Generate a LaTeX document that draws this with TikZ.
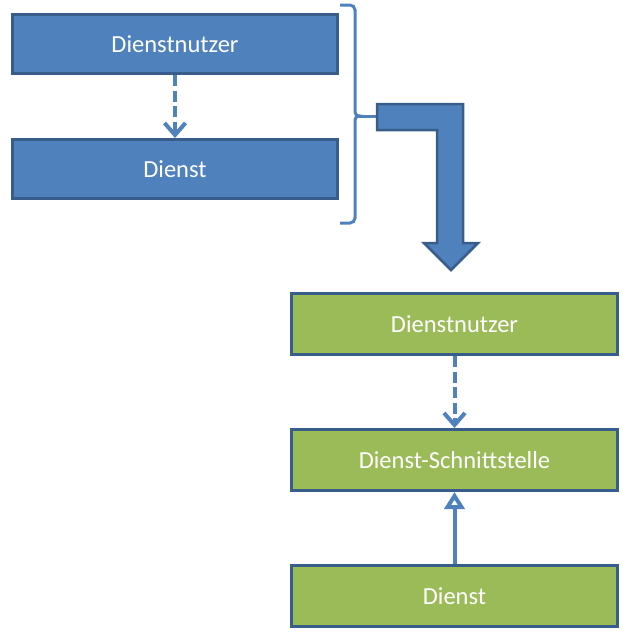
\documentclass[tikz,border=0pt]{standalone}
\usepackage{fontspec}
\setmainfont{Carlito}
\usetikzlibrary{arrows.meta}
\definecolor{bfill}{HTML}{4F81BD}
\definecolor{bline}{HTML}{385D8A}
\definecolor{gfill}{HTML}{9BBB59}
\begin{document}
\begin{tikzpicture}[x=1pt,y=-1pt,
  box/.style={draw=bline, line width=3pt, minimum width=325pt, minimum height=59pt, inner sep=0pt, text=white, font=\fontsize{24.5}{28}\selectfont},
  bluebox/.style={box, fill=bfill},
  greenbox/.style={box, fill=gfill},
  dep/.style={draw=bfill, line width=4pt, dash pattern=on 11pt off 4.5pt, -{Straight Barb[length=12pt,width=21pt,line width=4pt]}},
  real/.style={draw=bfill, line width=4pt, -{Triangle[length=17pt,width=20pt,fill=white,line width=4pt]}}]
\useasboundingbox (0,0) rectangle (637,638);
\node[bluebox] (b1) at (175,44) {Dienstnutzer};
\node[bluebox] (b2) at (175,169) {Dienst};
\draw[dep] (b1.south) -- (b2.north);
% brace
\draw[bfill, line width=3pt]
  (340,5) -- (350,5) arc[start angle=90, end angle=0, radius=5pt] -- (355,110)
  .. controls (355,114) and (356,116) .. (360,116)
  .. controls (356,116) and (355,118) .. (355,122) -- (355,218)
  arc[start angle=0, end angle=-90, radius=5pt] -- (340,223);
\coordinate (tip) at (359,116);
\coordinate (tail) at (378,116);
\draw[bfill, line width=3pt] (tip) -- (tail);
% bent arrow
\draw[fill=bfill, draw=bline, line width=2.5pt, line join=miter]
  (377,104) -- (463,104) -- (463,243) -- (478,243) -- (451,270) -- (424,243)
  -- (437,243) -- (437,130) -- (377,130) -- cycle;
\node[greenbox, minimum width=326pt, minimum height=61pt] (g1) at (454.5,324) {Dienstnutzer};
\node[greenbox, minimum width=326pt, minimum height=61pt] (g2) at (454.5,460) {Dienst-Schnittstelle};
\node[greenbox, minimum width=326pt, minimum height=61pt] (g3) at (454.5,596) {Dienst};
\draw[dep] (g1.south) -- (g2.north);
\draw[real] (g3.north) -- (g2.south);
\end{tikzpicture}
\end{document}
